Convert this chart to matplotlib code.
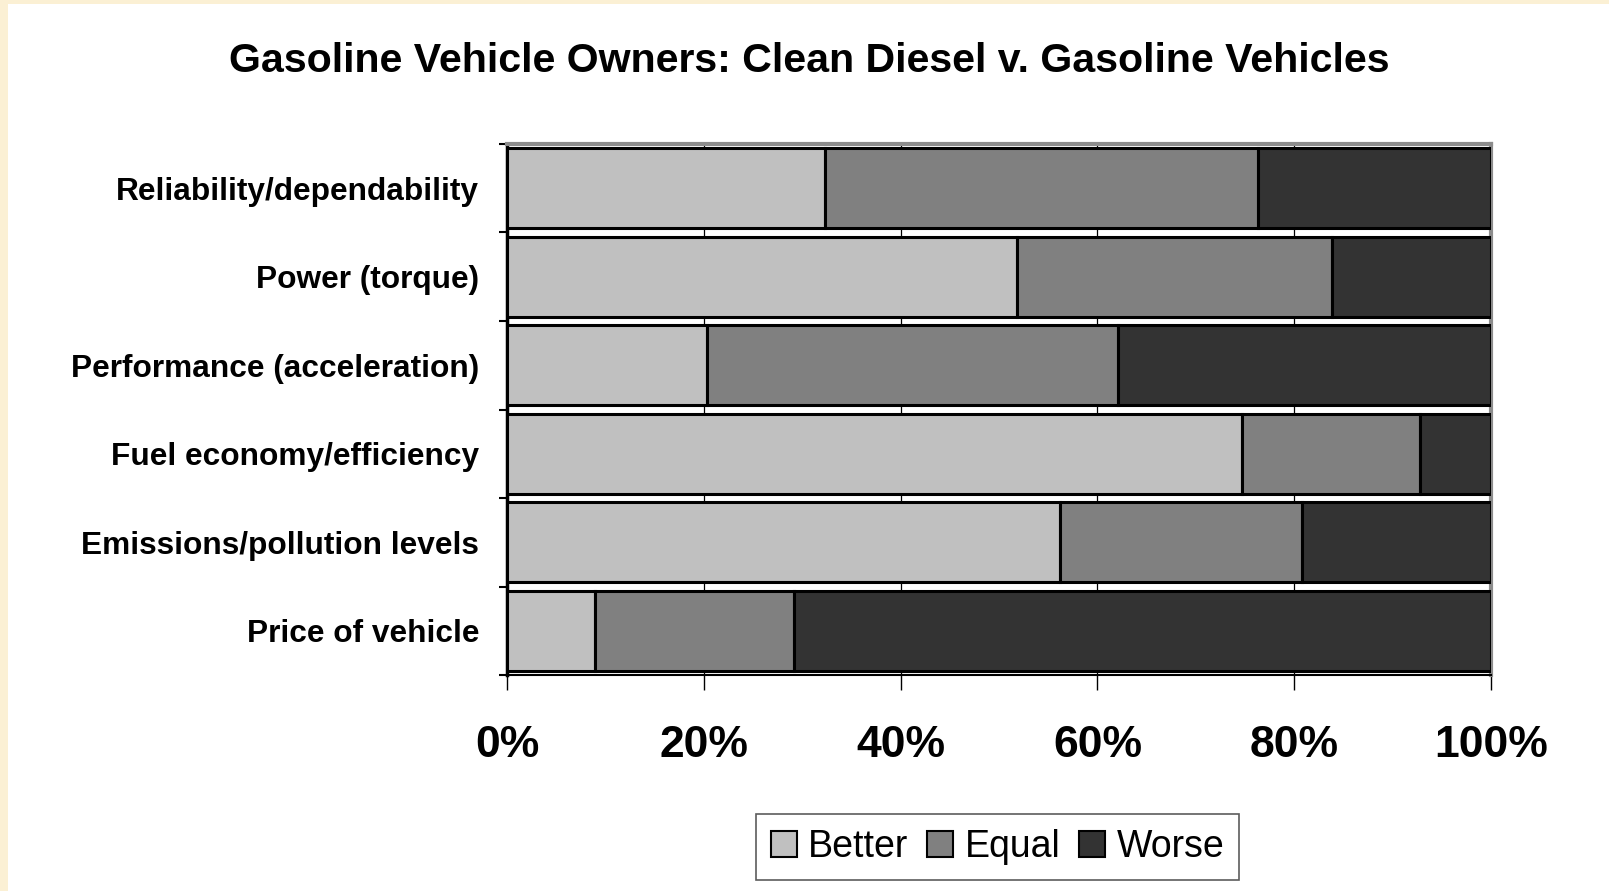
import matplotlib
matplotlib.use('Agg')
from matplotlib import pyplot as plt
from matplotlib.patches import Rectangle
import numpy as np

# survey categories, top to bottom
categories = ['Reliability/dependability', 'Power (torque)', 'Performance (acceleration)',
              'Fuel economy/efficiency', 'Emissions/pollution levels', 'Price of vehicle']
better = [32.3, 51.8, 20.3, 74.7, 56.2, 8.9]
equal = [44.0, 32.0, 41.8, 18.1, 24.6, 20.3]
worse = [23.7, 16.2, 37.9, 7.2, 19.2, 70.8]
series_names = ['Better', 'Equal', 'Worse']
series_colors = ['#C0C0C0', '#808080', '#333333']
x_ticks = [0, 20, 40, 60, 80, 100]

fig = plt.figure(figsize=(16.09, 8.91), dpi=100)
fig.patch.set_facecolor('white')

# cream strip along top and left edge
fig.patches.append(Rectangle((0, 0), 8 / 1609, 1, transform=fig.transFigure,
                             facecolor='#FBF0D4', edgecolor='none', zorder=0))
fig.patches.append(Rectangle((0, 1 - 4 / 891), 1, 4 / 891, transform=fig.transFigure,
                             facecolor='#FBF0D4', edgecolor='none', zorder=0))

ax = fig.add_axes([0.3151, 0.2424, 0.6116, 0.5960])

y = np.arange(len(categories))
left = np.zeros(len(categories))
for name, vals, col in zip(series_names, [better, equal, worse], series_colors):
    ax.barh(y, vals, left=left, height=0.9, color=col, edgecolor='black',
            linewidth=2.2, label=name, zorder=3)
    left = left + np.array(vals)

ax.set_xlim(0, 100)
ax.set_ylim(len(categories) - 0.5, -0.5)

# gridlines at every 20%
for gx in x_ticks[1:-1]:
    ax.axvline(gx, color='black', linewidth=0.9, zorder=1)

ax.set_xticks(x_ticks)
ax.set_xticklabels([f'{v}%' for v in x_ticks], fontsize=32, fontweight='bold',
                   family=['Liberation Sans Narrow', 'Liberation Sans', 'DejaVu Sans'])
ax.tick_params(axis='x', length=11, width=1, pad=25, color='black')

ax.set_yticks(y)
ax.set_yticklabels(categories, fontsize=22.8, fontweight='bold',
                   family=['Liberation Sans', 'DejaVu Sans'])
ax.set_yticks(np.arange(-0.5, len(categories)), minor=True)
ax.tick_params(axis='y', which='major', length=0, pad=20)
ax.tick_params(axis='y', which='minor', length=6, width=1.5, color='black')

ax.spines['left'].set_linewidth(2.5)
ax.spines['left'].set_color('black')
ax.spines['bottom'].set_linewidth(1.5)
ax.spines['bottom'].set_color('black')
ax.spines['top'].set_linewidth(3)
ax.spines['top'].set_color('#8C8C8C')
ax.spines['right'].set_linewidth(3)
ax.spines['right'].set_color('#8C8C8C')

fig.text(0.503, 0.932, 'Gasoline Vehicle Owners: Clean Diesel v. Gasoline Vehicles',
         ha='center', va='center', fontsize=29.6, fontweight='bold',
         family=['Liberation Sans', 'DejaVu Sans'])

leg = fig.legend(loc='center', bbox_to_anchor=(0.620, 0.0494), ncol=3,
                 frameon=True, fancybox=False, handlelength=0.7, handleheight=0.7,
                 handletextpad=0.3, columnspacing=0.5, borderpad=0.4,
                 prop={'family': ['Liberation Sans Narrow', 'Liberation Sans'], 'size': 27})
leg.get_frame().set_edgecolor('#333333')
leg.get_frame().set_linewidth(1.2)
for h in leg.legend_handles:
    h.set_linewidth(1.5)

plt.savefig('out.png', dpi=100)
